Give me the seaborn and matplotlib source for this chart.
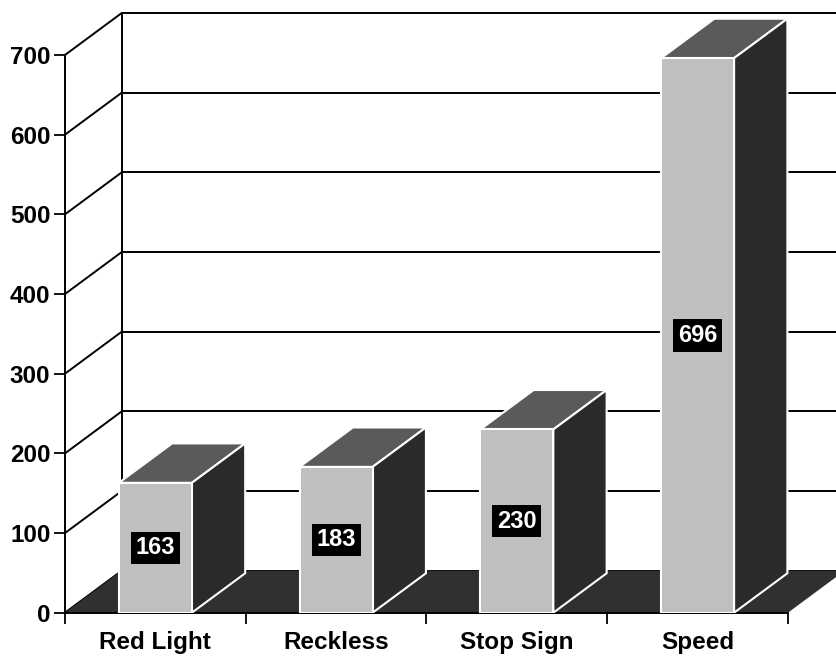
import matplotlib
matplotlib.use("Agg")
import matplotlib.pyplot as plt
from matplotlib.patches import Polygon
from matplotlib.ticker import FixedLocator
import seaborn as sns
import pandas as pd

categories = ["Red Light", "Reckless", "Stop Sign", "Speed"]
counts = [163, 183, 230, 696]
y_ticks = [0, 100, 200, 300, 400, 500, 600, 700]

# pseudo-3D depth of the walls and of the bars (category units, value units)
WALL_DX, WALL_DY = 0.314, 52.7
BAR_DX, BAR_DY = 0.295, 49.5

FRONT = "#bfbfbf"
TOP = "#5a5a5a"
SIDE = "#2a2a2a"
FLOOR = "#303030"
FONT_SIZE = 17.5

sns.set_theme(style="white")
plt.rcParams["font.family"] = ["Liberation Sans", "DejaVu Sans"]
plt.rcParams["font.weight"] = "bold"

fig = plt.figure(figsize=(8.36, 6.59), dpi=100)
fig.patch.set_facecolor("white")
ax = fig.add_axes([65 / 836, 46.3 / 659, 771 / 836, 612.7 / 659])
ax.set_facecolor("white")

df = pd.DataFrame({"violation": categories, "count": counts})
sns.barplot(data=df, x="violation", y="count", width=0.404, color=FRONT,
            saturation=1, edgecolor="white", linewidth=1.5, ax=ax, zorder=5)

xmin, xmax = -0.5, 3.766
ymax = 769
n = len(categories)

# side wall diagonals and back-wall gridlines
for v in y_ticks:
    ax.plot([xmin, xmin + WALL_DX], [v, v + WALL_DY], color="black", lw=1.4,
            zorder=1, clip_on=False, solid_capstyle="butt")
    ax.plot([xmin + WALL_DX, xmax + 1], [v + WALL_DY, v + WALL_DY],
            color="black", lw=1.4, zorder=1)
ax.plot([xmin + WALL_DX, xmin + WALL_DX], [WALL_DY, y_ticks[-1] + WALL_DY],
        color="black", lw=1.4, zorder=1)

# floor
floor = Polygon([(xmin, 0), (n - 0.5, 0), (n - 0.5 + WALL_DX, WALL_DY),
                 (xmin + WALL_DX, WALL_DY)], closed=True, facecolor=FLOOR,
                edgecolor="none", zorder=2)
ax.add_patch(floor)

# top and side faces of each bar, plus the value label on the front face
for p, val in zip(ax.patches[:n], counts):
    x0, w, h = p.get_x(), p.get_width(), p.get_height()
    top = Polygon([(x0, h), (x0 + w, h), (x0 + w + BAR_DX, h + BAR_DY),
                   (x0 + BAR_DX, h + BAR_DY)], closed=True, facecolor=TOP,
                  edgecolor="white", linewidth=1.5, zorder=4)
    side = Polygon([(x0 + w, 0), (x0 + w + BAR_DX, BAR_DY),
                    (x0 + w + BAR_DX, h + BAR_DY), (x0 + w, h)], closed=True,
                   facecolor=SIDE, edgecolor="white", linewidth=1.5, zorder=4)
    ax.add_patch(top)
    ax.add_patch(side)
    ax.text(x0 + w / 2, h / 2, str(val), ha="center", va="center",
            color="white", fontsize=17, fontweight="bold", zorder=6,
            bbox=dict(boxstyle="square,pad=0.2", facecolor="black",
                      edgecolor="none"))

ax.set_xlim(xmin, xmax)
ax.set_ylim(0, ymax)
ax.set_yticks(y_ticks)
ax.set_xlabel("")
ax.set_ylabel("")

ax.xaxis.set_minor_locator(FixedLocator([i - 0.5 for i in range(n + 1)]))
ax.tick_params(axis="x", which="major", length=0, pad=13,
               labelsize=FONT_SIZE, colors="black")
ax.tick_params(axis="x", which="minor", length=8, width=1.3, direction="out",
               color="black", bottom=True)
ax.tick_params(axis="y", which="major", length=8, width=1.3, direction="out",
               pad=2.5, labelsize=FONT_SIZE, colors="black", left=True)
for lab in ax.get_xticklabels() + ax.get_yticklabels():
    lab.set_fontweight("bold")

for s in ["top", "right"]:
    ax.spines[s].set_visible(False)
ax.spines["left"].set_bounds(0, y_ticks[-1])
ax.spines["bottom"].set_bounds(xmin, n - 0.5)
for s in ["left", "bottom"]:
    ax.spines[s].set_color("black")
    ax.spines[s].set_linewidth(1.4)
    ax.spines[s].set_zorder(3)

fig.savefig("out.png", dpi=100, facecolor="white")
